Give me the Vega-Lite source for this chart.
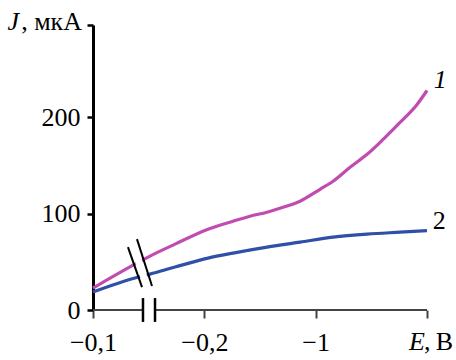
{
  "$schema": "https://vega.github.io/schema/vega-lite/v6.json",
  "width": 334,
  "height": 285,
  "autosize": {"type": "none"},
  "padding": {"left": 93, "top": 25, "right": 29, "bottom": 50},
  "background": "white",
  "config": {"view": {"stroke": null}, "font": "Liberation Serif"},
  "datasets": {
    "curves": [
      {"s": "1", "u": 0, "J": 22.8},
      {"s": "1", "u": 0.377, "J": 47.7},
      {"s": "1", "u": 0.512, "J": 56},
      {"s": "1", "u": 0.737, "J": 68.4},
      {"s": "1", "u": 1.033, "J": 83.9},
      {"s": "1", "u": 1.258, "J": 92.2},
      {"s": "1", "u": 1.41, "J": 97.4},
      {"s": "1", "u": 1.563, "J": 101.6},
      {"s": "1", "u": 1.707, "J": 106.7},
      {"s": "1", "u": 1.86, "J": 113},
      {"s": "1", "u": 2.04, "J": 125.4},
      {"s": "1", "u": 2.156, "J": 133.7},
      {"s": "1", "u": 2.309, "J": 148.2},
      {"s": "1", "u": 2.462, "J": 161.7},
      {"s": "1", "u": 2.606, "J": 177.2},
      {"s": "1", "u": 2.758, "J": 194.8},
      {"s": "1", "u": 2.911, "J": 213.5},
      {"s": "1", "u": 3.0, "J": 228},
      {"s": "2", "u": 0, "J": 18.7},
      {"s": "2", "u": 0.377, "J": 33.2},
      {"s": "2", "u": 0.512, "J": 37.3},
      {"s": "2", "u": 0.737, "J": 44.6},
      {"s": "2", "u": 1.033, "J": 53.9},
      {"s": "2", "u": 1.258, "J": 59.1},
      {"s": "2", "u": 1.563, "J": 65.3},
      {"s": "2", "u": 1.86, "J": 70.5},
      {"s": "2", "u": 2.156, "J": 75.6},
      {"s": "2", "u": 2.462, "J": 78.8},
      {"s": "2", "u": 2.758, "J": 80.8},
      {"s": "2", "u": 3.0, "J": 82.4}
    ]
  },
  "layer": [
    {
      "data": {"name": "curves"},
      "mark": {"type": "line", "strokeWidth": 3.2, "interpolate": "monotone"},
      "encoding": {
        "x": {
          "field": "u", "type": "quantitative",
          "scale": {"domain": [0, 3], "nice": false, "zero": false},
          "axis": {
            "values": [0, 1, 2, 3], "domain": false, "grid": false, "title": null,
            "tickSize": 8, "tickColor": "#444", "tickWidth": 2,
            "labelExpr": "datum.value==0?'−0,1':datum.value==1?'−0,2\u00a0\u00a0':datum.value==2?'−1\u00a0\u00a0\u00a0\u00a0':''",
            "labelFontSize": 26, "labelBaseline": "alphabetic", "labelPadding": 32,
            "labelColor": "black", "labelFont": "Liberation Serif",
            "labelFlush": false, "labelOverlap": false
          }
        },
        "y": {
          "field": "J", "type": "quantitative",
          "scale": {"domain": [0, 296], "nice": false, "zero": false},
          "axis": {
            "values": [0, 100, 200, 296], "grid": false, "title": null,
            "labelExpr": "datum.value>250?'':datum.label",
            "domainColor": "black", "domainWidth": 3,
            "tickColor": "black", "tickWidth": 2.5, "tickSize": 6,
            "labelPadding": 7, "labelFontSize": 26, "labelColor": "black",
            "labelFont": "Liberation Serif", "labelOverlap": false
          }
        },
        "color": {
          "field": "s", "type": "nominal",
          "scale": {"domain": ["1", "2"], "range": ["#c04cb0", "#3050a8"]},
          "legend": null
        }
      }
    },
    {
      "data": {"values": [{"u": 0, "u2": 0.449, "J": 0, "J2": 0}, {"u": 0.557, "u2": 3, "J": 0, "J2": 0}]},
      "mark": {"type": "rule", "color": "#444", "strokeWidth": 2},
      "encoding": {
        "x": {"field": "u", "type": "quantitative"},
        "x2": {"field": "u2"},
        "y": {"field": "J", "type": "quantitative"},
        "y2": {"field": "J2"}
      }
    },
    {
      "data": {"values": [{"u": 0.449, "u2": 0.449, "J": -12.4, "J2": 12.4}, {"u": 0.557, "u2": 0.557, "J": -12.4, "J2": 12.4}]},
      "mark": {"type": "rule", "color": "black", "strokeWidth": 2.5},
      "encoding": {
        "x": {"field": "u", "type": "quantitative"},
        "x2": {"field": "u2"},
        "y": {"field": "J", "type": "quantitative"},
        "y2": {"field": "J2"}
      }
    },
    {
      "data": {"values": [{"u": 0.355, "u2": 0.485, "J": 69.5, "J2": 24.3}]},
      "mark": {"type": "rule", "color": "white", "strokeWidth": 7},
      "encoding": {
        "x": {"field": "u", "type": "quantitative"},
        "x2": {"field": "u2"},
        "y": {"field": "J", "type": "quantitative"},
        "y2": {"field": "J2"}
      }
    },
    {
      "data": {"values": [{"u": 0.314, "u2": 0.44, "J": 65.3, "J2": 23.8}, {"u": 0.395, "u2": 0.53, "J": 73.6, "J2": 24.9}]},
      "mark": {"type": "rule", "color": "black", "strokeWidth": 2},
      "encoding": {
        "x": {"field": "u", "type": "quantitative"},
        "x2": {"field": "u2"},
        "y": {"field": "J", "type": "quantitative"},
        "y2": {"field": "J2"}
      }
    },
    {
      "data": {"values": [{"t": "J", "u": 0, "J": 296}]},
      "mark": {"type": "text", "align": "right", "baseline": "alphabetic", "dx": -74, "dy": 5, "fontSize": 26, "fontStyle": "italic", "color": "black"},
      "encoding": {
        "x": {"field": "u", "type": "quantitative"},
        "y": {"field": "J", "type": "quantitative"},
        "text": {"field": "t"}
      }
    },
    {
      "data": {"values": [{"t": ", мкА", "u": 0, "J": 296}]},
      "mark": {"type": "text", "align": "right", "baseline": "alphabetic", "dx": -11, "dy": 5, "fontSize": 26, "color": "black"},
      "encoding": {
        "x": {"field": "u", "type": "quantitative"},
        "y": {"field": "J", "type": "quantitative"},
        "text": {"field": "t"}
      }
    },
    {
      "data": {"values": [{"t": "E", "u": 3, "J": 0}]},
      "mark": {"type": "text", "align": "right", "baseline": "alphabetic", "dx": -2, "dy": 40, "fontSize": 26, "fontStyle": "italic", "color": "black"},
      "encoding": {
        "x": {"field": "u", "type": "quantitative"},
        "y": {"field": "J", "type": "quantitative"},
        "text": {"field": "t"}
      }
    },
    {
      "data": {"values": [{"t": ",\u2009В", "u": 3, "J": 0}]},
      "mark": {"type": "text", "align": "left", "baseline": "alphabetic", "dx": -3, "dy": 40, "fontSize": 26, "color": "black"},
      "encoding": {
        "x": {"field": "u", "type": "quantitative"},
        "y": {"field": "J", "type": "quantitative"},
        "text": {"field": "t"}
      }
    },
    {
      "data": {"values": [{"t": "1", "u": 3.118, "J": 238.5}]},
      "mark": {"type": "text", "align": "center", "baseline": "middle", "fontSize": 26, "fontStyle": "italic", "color": "black"},
      "encoding": {
        "x": {"field": "u", "type": "quantitative"},
        "y": {"field": "J", "type": "quantitative"},
        "text": {"field": "t"}
      }
    },
    {
      "data": {"values": [{"t": "2", "u": 3.11, "J": 92.7}]},
      "mark": {"type": "text", "align": "center", "baseline": "middle", "fontSize": 26, "color": "black"},
      "encoding": {
        "x": {"field": "u", "type": "quantitative"},
        "y": {"field": "J", "type": "quantitative"},
        "text": {"field": "t"}
      }
    }
  ]
}
